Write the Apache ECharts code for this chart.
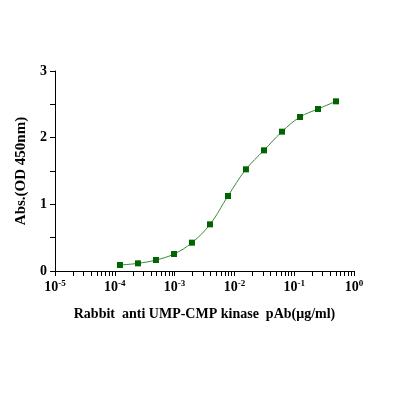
<!DOCTYPE html>
<html>
<head>
<meta charset="utf-8">
<script src="https://cdn.jsdelivr.net/npm/echarts@6/dist/echarts.min.js"></script>
<style>
  html, body { margin: 0; padding: 0; background: #fff; }
  #chart { width: 396px; height: 396px; }
</style>
</head>
<body>
<div id="chart"></div>
<script>
// two-fold dilution series, μg/ml
const concentrations = [0.000122, 0.000244, 0.000488, 0.000977, 0.00195, 0.00391, 0.00781, 0.0156, 0.03125, 0.0625, 0.125, 0.25, 0.5]
const absorbance = [0.09, 0.115, 0.165, 0.255, 0.425, 0.70, 1.125, 1.525, 1.81, 2.09, 2.31, 2.43, 2.545]

const xLabelValues = [1e-5, 1e-4, 1e-3, 1e-2, 1e-1, 1]
const yLabelValues = [0, 1, 2, 3]

// log-spaced tick marks: 1..9 in each decade
const xTickValues = []
for (let e = -5; e < 0; e++) {
  for (let m = 1; m <= 9; m++) xTickValues.push(m * Math.pow(10, e))
}
xTickValues.push(1)

const FONT = '"Liberation Serif", "Times New Roman", serif'

const chart = echarts.init(document.getElementById('chart'))

chart.setOption({
  backgroundColor: '#fff',
  animation: false,
  grid: { left: 55, right: 42, top: 71, bottom: 125 },
  xAxis: {
    type: 'log',
    logBase: 10,
    min: 1e-5,
    max: 1,
    name: 'Rabbit  anti UMP-CMP kinase  pAb(μg/ml)',
    nameLocation: 'middle',
    nameGap: 36,
    nameTextStyle: { fontFamily: FONT, fontWeight: 'bold', fontSize: 14, color: '#000' },
    axisLine: { lineStyle: { color: '#000', width: 1 } },
    axisTick: { inside: false, length: 5, lineStyle: { color: '#000' }, customValues: xTickValues },
    axisLabel: {
      customValues: xLabelValues,
      margin: 8,
      fontFamily: FONT,
      fontWeight: 'bold',
      color: '#000',
      formatter: (v) => '{b|10}{s|' + Math.round(Math.log10(v)) + '}',
      rich: {
        b: { fontFamily: FONT, fontWeight: 'bold', fontSize: 14, color: '#000', lineHeight: 16 },
        s: { fontFamily: FONT, fontSize: 9, color: '#000', verticalAlign: 'top', lineHeight: 10 }
      }
    },
    splitLine: { show: false },
    minorTick: { show: false }
  },
  yAxis: {
    type: 'value',
    min: 0,
    max: 3,
    interval: 0.5,
    name: 'Abs.(OD 450nm)',
    nameLocation: 'middle',
    nameGap: 26,
    nameTextStyle: { fontFamily: FONT, fontSize: 15, fontWeight: 'bold', color: '#000' },
    axisLine: { show: true, lineStyle: { color: '#000', width: 1 } },
    axisTick: { show: true, length: 5, lineStyle: { color: '#000' } },
    axisLabel: {
      customValues: yLabelValues,
      margin: 8,
      fontFamily: FONT,
      fontWeight: 'bold',
      fontSize: 14,
      color: '#000'
    },
    splitLine: { show: false }
  },
  series: [
    {
      type: 'line',
      data: concentrations.map((c, i) => [c, absorbance[i]]),
      smooth: 0.4,
      symbol: 'rect',
      symbolSize: 6,
      itemStyle: { color: '#006400' },
      lineStyle: { color: '#3a8a3a', width: 1 }
    }
  ]
})
</script>
</body>
</html>
